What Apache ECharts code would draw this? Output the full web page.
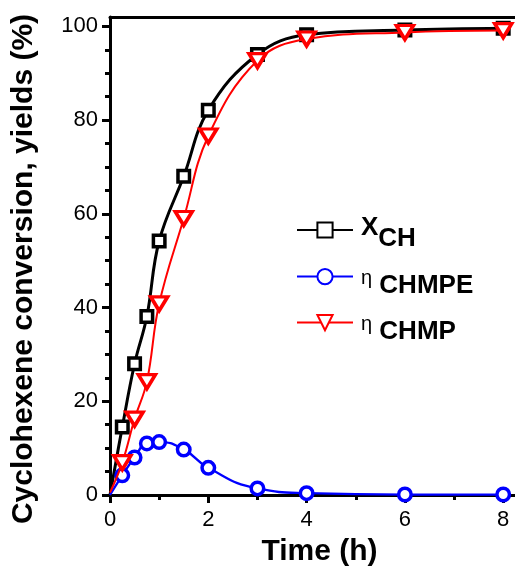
<!DOCTYPE html>
<html>
<head>
<meta charset="utf-8">
<script src="https://cdn.jsdelivr.net/npm/echarts@6/dist/echarts.min.js"></script>
<style>
html,body{margin:0;padding:0;background:#fff;}
#chart{width:515px;height:566px;}
</style>
</head>
<body>
<div id="chart"></div>
<script>
// ---- data ----
const time = [0, 0.25, 0.5, 0.75, 1, 1.5, 2, 3, 4, 6, 8];
const xCH = [0, 14.5, 28.0, 38.1, 54.2, 68.0, 82.1, 94.0, 98.2, 99.2, 99.6];
const etaCHMPE = [0, 4.2, 8.0, 11.0, 11.3, 9.7, 5.8, 1.4, 0.4, 0.1, 0.1];
const etaCHMP = [0.5, 6.9, 16.2, 24.2, 40.8, 59.0, 76.6, 92.7, 97.3, 98.7, 99.1];
const seriesNames = ['X_CH', 'η CHMPE', 'η CHMP'];
const xMajorTicks = [0, 2, 4, 6, 8];
const xMinorTicks = [1, 3, 5, 7];
const yMajorTicks = [0, 20, 40, 60, 80, 100];
const yMinorTicks = [5, 10, 15, 25, 30, 35, 45, 50, 55, 65, 70, 75, 85, 90, 95];
const xName = 'Time (h)';
const yName = 'Cyclohexene conversion, yields (%)';

const FONT = 'Liberation Sans, Arial, Helvetica, sans-serif';
const X_MIN = 0, X_MAX = 8.24, Y_MIN = 0, Y_MAX = 102;

function pairs(xs, ys) {
  return xs.map((x, i) => i === 0 ? { value: [x, ys[i]], symbol: 'none' } : [x, ys[i]]);
}

const axisLineStyle = { color: '#000', width: 3 };

const chart = echarts.init(document.getElementById('chart'), null, { renderer: 'canvas' });

function legendFor(name, top) {
  return {
    data: [name],
    left: 296,
    top: top,
    padding: 0,
    itemWidth: 56,
    itemHeight: 19,
    selectedMode: false,
    formatter: function (n) {
      if (n === 'X_CH') return '{X|X}{S|CH}';
      if (n === 'η CHMPE') return '{e|η}{c| CHMPE}';
      return '{e|η}{c| CHMP}';
    },
    textStyle: {
      fontFamily: FONT,
      color: '#000',
      rich: {
        X: { fontFamily: FONT, fontSize: 26, fontWeight: 'bold', color: '#000', padding: [7, 0, 11, 3] },
        S: { fontFamily: FONT, fontSize: 26, fontWeight: 'bold', color: '#000', padding: [18, 0, 0, 0] },
        e: { fontFamily: FONT, fontSize: 20, color: '#000', padding: [14, 0, 10, 3] },
        c: { fontFamily: FONT, fontSize: 26, fontWeight: 'bold', color: '#000', padding: [18, 0, 0, 0] }
      }
    }
  };
}

const option = {
  backgroundColor: '#fff',
  animation: false,
  grid: { left: 110, right: 0, top: 17, bottom: 71, outerBoundsMode: 'none', containLabel: false },
  legend: [
    legendFor(seriesNames[0], 215),
    legendFor(seriesNames[1], 268),
    legendFor(seriesNames[2], 314)
  ],
  xAxis: [
    {
      type: 'value', min: X_MIN, max: X_MAX, position: 'bottom',
      name: xName, nameLocation: 'middle', nameGap: 42,
      nameTextStyle: { fontFamily: FONT, fontSize: 30, fontWeight: 'bold', color: '#000', padding: [0, 0, 0, 14] },
      axisLine: { show: true, onZero: false, lineStyle: axisLineStyle },
      axisTick: { show: true, inside: false, length: 8, lineStyle: { color: '#000', width: 3 }, customValues: xMajorTicks },
      axisLabel: { show: true, margin: 14, fontFamily: FONT, fontSize: 22, color: '#000', customValues: xMajorTicks },
      splitLine: { show: false }, minorTick: { show: false }
    },
    {
      type: 'value', min: X_MIN, max: X_MAX, position: 'bottom',
      axisLine: { show: false, onZero: false },
      axisTick: { show: true, inside: false, length: 5, lineStyle: { color: '#000', width: 3 }, customValues: xMinorTicks },
      axisLabel: { show: false },
      splitLine: { show: false }
    },
    {
      type: 'value', min: X_MIN, max: X_MAX, position: 'top',
      axisLine: { show: true, onZero: false, lineStyle: axisLineStyle },
      axisTick: { show: false }, axisLabel: { show: false }, splitLine: { show: false }
    }
  ],
  yAxis: [
    {
      type: 'value', min: Y_MIN, max: Y_MAX, position: 'left',
      name: yName, nameLocation: 'middle', nameGap: 71, nameRotate: 90,
      nameTextStyle: { fontFamily: FONT, fontSize: 30, fontWeight: 'bold', color: '#000', padding: [0, 26, 0, 0] },
      axisLine: { show: true, onZero: false, lineStyle: axisLineStyle },
      axisTick: { show: true, inside: false, length: 8, lineStyle: { color: '#000', width: 3 }, customValues: yMajorTicks },
      axisLabel: { show: true, margin: 12, fontFamily: FONT, fontSize: 22, color: '#000', customValues: yMajorTicks },
      splitLine: { show: false }, minorTick: { show: false }
    },
    {
      type: 'value', min: Y_MIN, max: Y_MAX, position: 'left',
      axisLine: { show: false, onZero: false },
      axisTick: { show: true, inside: false, length: 5, lineStyle: { color: '#000', width: 3 }, customValues: yMinorTicks },
      axisLabel: { show: false },
      splitLine: { show: false }
    }
  ],
  series: [
    {
      name: seriesNames[0], type: 'line', xAxisIndex: 0, yAxisIndex: 0,
      data: pairs(time, xCH), smooth: 0.4,
      color: '#000',
      symbol: 'rect', symbolSize: 11.5,
      lineStyle: { color: '#000', width: 3 },
      itemStyle: { color: '#fff', borderColor: '#000', borderWidth: 3.5 },
      z: 3
    },
    {
      name: seriesNames[1], type: 'line', xAxisIndex: 0, yAxisIndex: 0,
      data: pairs(time, etaCHMPE), smooth: 0.5,
      color: '#0000ff',
      symbol: 'circle', symbolSize: 12.5,
      lineStyle: { color: '#0000ff', width: 2.3 },
      itemStyle: { color: '#fff', borderColor: '#0000ff', borderWidth: 3.5 },
      z: 4
    },
    {
      name: seriesNames[2], type: 'line', xAxisIndex: 0, yAxisIndex: 0,
      data: pairs(time, etaCHMP), smooth: 0.4,
      color: '#ff0000',
      symbol: 'triangle', symbolRotate: 180, symbolSize: [17, 14],
      lineStyle: { color: '#ff0000', width: 2 },
      itemStyle: { color: '#fff', borderColor: '#ff0000', borderWidth: 3.5 },
      z: 5
    }
  ]
};
chart.setOption(option);
</script>
</body>
</html>
